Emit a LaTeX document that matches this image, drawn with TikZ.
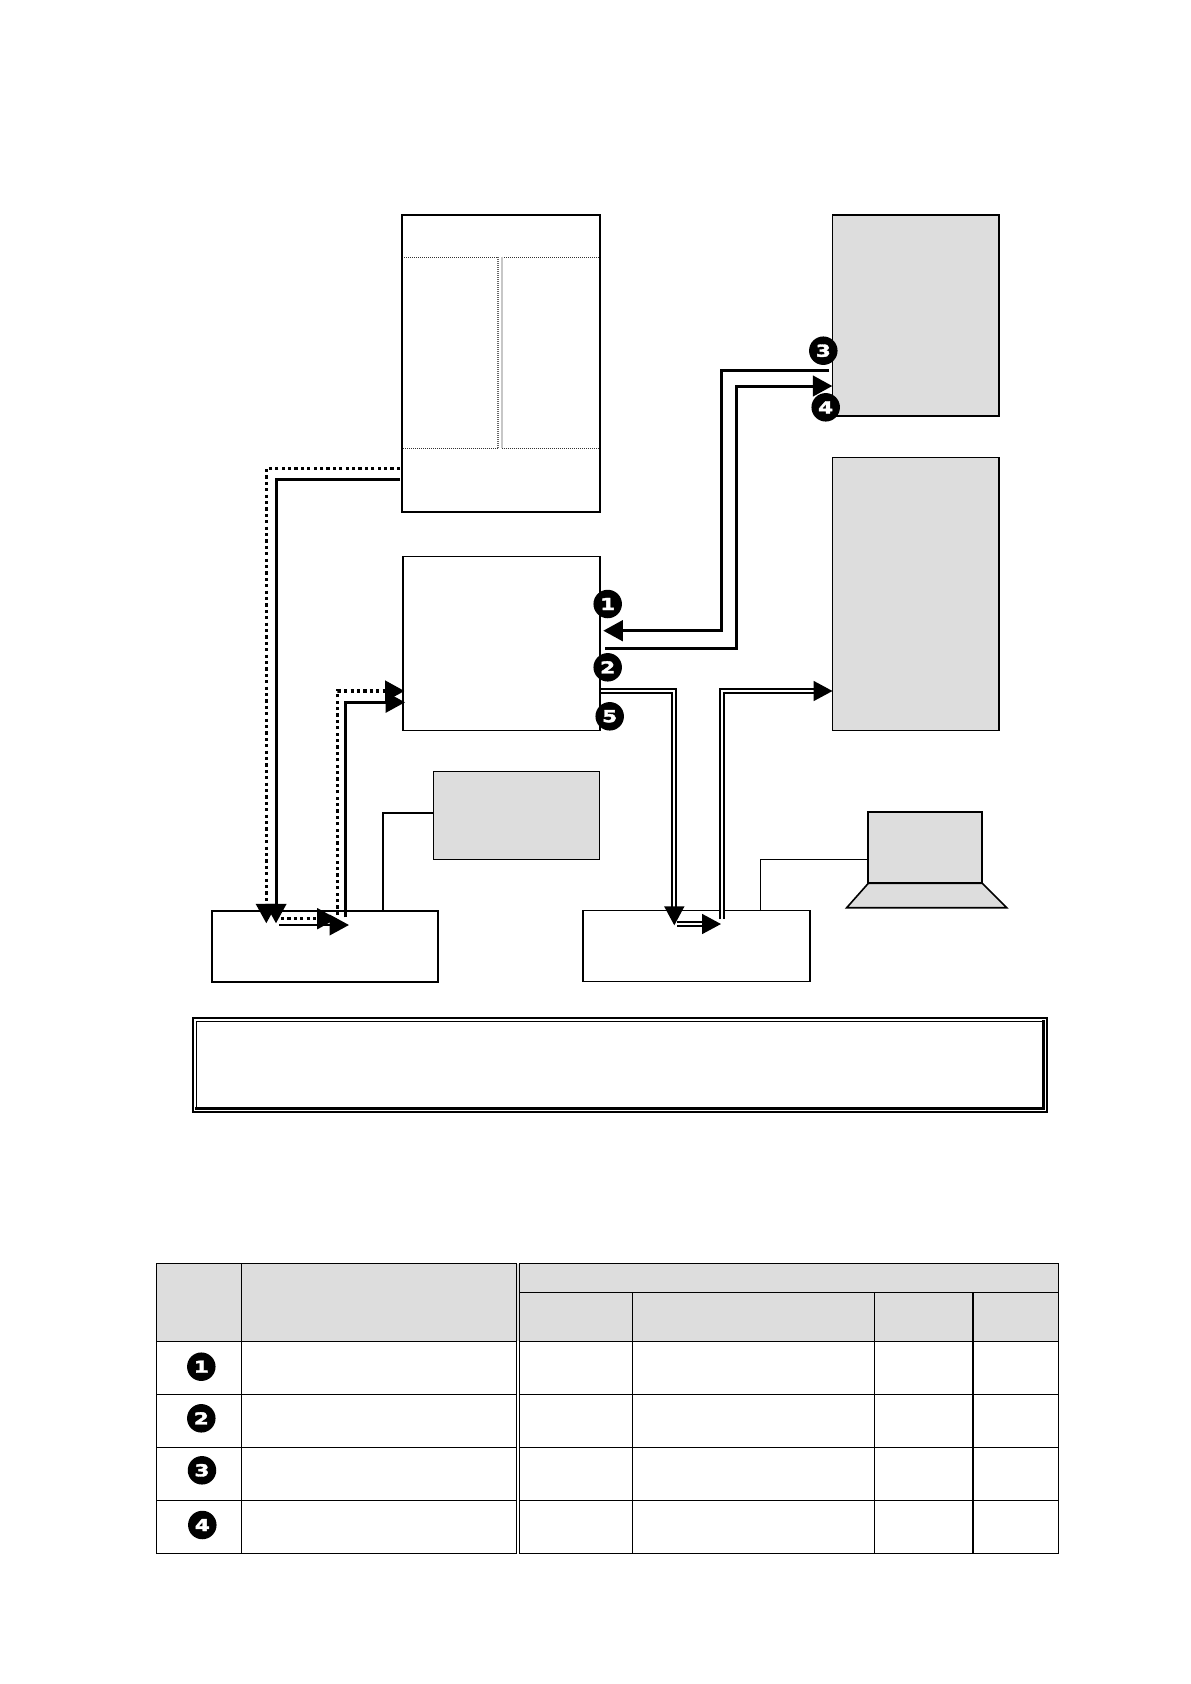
\documentclass[tikz,border=0pt]{standalone}
\usepackage{fontspec}
\usepackage{graphicx}
\setmainfont{DejaVu Sans}
\newfontfamily\badgefont[FakeBold=2.2]{DejaVu Sans Bold}
\usetikzlibrary{arrows.meta,calc}
\definecolor{panel}{HTML}{DDDDDD}
\tikzset{
  x=1pt,y=-1pt,
  box/.style={draw=black,line width=#1,inner sep=0pt,outer sep=0pt,rectangle},
  box/.default=1.3pt,
  grayfill/.style={fill=panel},
  badge/.style={circle,fill=black,text=white,inner sep=0pt,minimum size=28.5pt,font=\badgefont\fontsize{16.5}{16.5}\selectfont},
  tip/.style={-{Triangle[length=19.5pt,width=20.5pt]}},
  tipsmall/.style={-{Triangle[length=19pt,width=20pt]}},
  solidwire/.style={line width=3pt,line join=miter},
  dotwire/.style={line width=3.2pt,dash pattern=on 3.2pt off 3.2pt},
  doublewire/.style={line width=1.8pt,double=white,double distance=2.3pt},
  thinwire/.style={line width=1.6pt},
  dottedrule/.style={line width=1.1pt,dash pattern=on 1pt off 1pt,draw=black!80},
  tablerule/.style={line width=1.4pt},
}
\newcommand{\numbadge}[4]{\node[badge] (#1) at (#2,#3) {\scalebox{1.3}[1]{#4}};}
\begin{document}
\begin{tikzpicture}
\useasboundingbox (0,0) rectangle (1191,1684);

% inner dotted partitions of the top box
\coordinate (pL1) at (402,257.3); \coordinate (pM1) at (498,257.3);
\coordinate (pM2) at (502,257.3); \coordinate (pR1) at (599,257.3);
\coordinate (qL1) at (401,448.3); \coordinate (qM1) at (498,448.3);
\coordinate (qM2) at (502,448.3); \coordinate (qR1) at (599,448.3);
\draw[dottedrule] (pL1) -- (pM1); \draw[dottedrule] (pM2) -- (pR1);
\draw[dottedrule] (qL1) -- (qM1); \draw[dottedrule] (qM2) -- (qR1);
\draw[dottedrule,draw=black!60] (pM1) -- (qM1);
\draw[line width=1.2pt,black!22] (pM2) -- (qM2);

% boxes
\node[box=2pt,minimum width=198pt,minimum height=297pt,anchor=north west] (topbox) at (401.5,215) {};
\node[box=1.3pt,minimum width=197pt,minimum height=174pt,anchor=north west] (midbox) at (403,556.3) {};
\node[box=1.5pt,grayfill,minimum width=166.5pt,minimum height=201pt,anchor=north west] (grayA) at (832.5,215) {};
\node[box=1.5pt,grayfill,minimum width=166.5pt,minimum height=273pt,anchor=north west] (grayB) at (832.5,457.5) {};
\node[box=1.5pt,grayfill,minimum width=166pt,minimum height=88pt,anchor=north west] (grayC) at (433.3,771.3) {};
\node[box=2pt,minimum width=226.6pt,minimum height=71pt,anchor=north west] (baseL) at (211.7,910.7) {};
\node[box=1.6pt,minimum width=227pt,minimum height=71pt,anchor=north west] (baseR) at (583,910.3) {};

% laptop
\node[box=2pt,grayfill,minimum width=114pt,minimum height=71.3pt,anchor=north west] (screen) at (868.3,812) {};
\draw[line width=1.6pt,fill=panel,line join=miter] (screen.south west) -- (846.7,907.7) -- (1006.7,907.7) -- (screen.south east) -- cycle;

% note frame
\node[box=2pt,minimum width=854.6pt,minimum height=94.3pt,anchor=north west] (noteOuter) at (192.7,1017.7) {};
\coordinate (nA) at (196.3,1021.3); \coordinate (nB) at (1043.3,1108.7);
\draw[line width=1.2pt] (nA) -- (nA -| nB);
\draw[line width=1.2pt] (nA) -- (nA |- nB);
\draw[line width=3.2pt,line cap=rect] (nB -| nA) -- (nB) -- (nB |- nA);

% thin wires
\coordinate (wL) at (383,911); \coordinate (wLb) at (433.3,812.7);
\coordinate (wR) at (760.3,911); \coordinate (wRb) at (868.3,859.3);
\draw[thinwire] (wL) |- (wLb);
\draw[thinwire] (wR) |- (wRb);

% left connectors
\coordinate (sA0) at (400,479.3); \coordinate (sA1) at (276,923.3);
\coordinate (dA0) at (400,468.3); \coordinate (dA1) at (266.3,923.3);
\draw[dotwire,tip] (dA0) -| (dA1);
\draw[solidwire,tip] (sA0) -| (sA1);

\coordinate (hd0) at (281,918.7); \coordinate (hd1) at (336.7,918.7);
\coordinate (hs0) at (279.3,925); \coordinate (hs1) at (349,925);
\draw[dotwire,tip] (hd0) -- (hd1);
\draw[solidwire,line width=2.4pt,tip] (hs0) -- (hs1);

\coordinate (dB0) at (337.7,915); \coordinate (dB1) at (404.5,691);
\coordinate (sB0) at (345.3,917.3); \coordinate (sB1) at (405,702.3);
\draw[dotwire,tip] (dB0) |- (dB1);
\draw[solidwire,tip] (sB0) |- (sB1);

% right thick connectors
\coordinate (one0) at (829,370.7); \coordinate (oneM) at (721.7,630.7); \coordinate (one1) at (603.3,630.7);
\coordinate (two0) at (605,648.3); \coordinate (twoM) at (736,386); \coordinate (two1) at (832.3,386);
\draw[solidwire,tip] (one0) -| (oneM) -- (one1);
\draw[solidwire,tip] (two0) -| (twoM) -- (two1);

% double connectors
\coordinate (dbA0) at (601,691); \coordinate (dbA1) at (674.3,925.3);
\coordinate (dbB0) at (677,924); \coordinate (dbB1) at (721,924);
\coordinate (dbC0) at (722,919.3); \coordinate (dbC1) at (832.5,691);
\draw[doublewire,tipsmall] (dbA0) -| (dbA1);
\draw[doublewire,tipsmall] (dbB0) -- (dbB1);
\draw[doublewire,tipsmall] (dbC0) |- (dbC1);

% diagram badges
\numbadge{b1}{607.7}{604}{1}
\numbadge{b2}{607.7}{667.3}{2}
\numbadge{b5}{609.7}{716.3}{5}
\numbadge{b3}{823.3}{350.7}{3}
\numbadge{b4}{825.7}{407.3}{4}

% table
\fill[panel] (156.3,1263.7) rectangle (1058.4,1341.3);
\draw[tablerule] (156.3,1263.7) rectangle (241.3,1553.3);
\draw[tablerule] (241.3,1263.7) rectangle (516.6,1553.3);
\draw[tablerule] (519.6,1263.7) rectangle (1058.4,1553.3);
\fill[white] (517.4,1341.3) rectangle (518.8,1553.3);
\foreach \yy in {1341.3,1394.3,1447.3,1500.3}{
  \draw[tablerule] (156.3,\yy) -- (516.6,\yy);
  \draw[tablerule] (519.6,\yy) -- (1058.4,\yy);
}
\draw[tablerule] (519.6,1292.3) -- (1058.4,1292.3);
\foreach \xx in {632.6,874.2,973}{
  \draw[tablerule] (\xx,1292.3) -- (\xx,1553.3);
}
\numbadge{t1}{201.3}{1366.7}{1}
\numbadge{t2}{201.3}{1418.3}{2}
\numbadge{t3}{202}{1470.3}{3}
\numbadge{t4}{202.3}{1525}{4}
\end{tikzpicture}
\end{document}
